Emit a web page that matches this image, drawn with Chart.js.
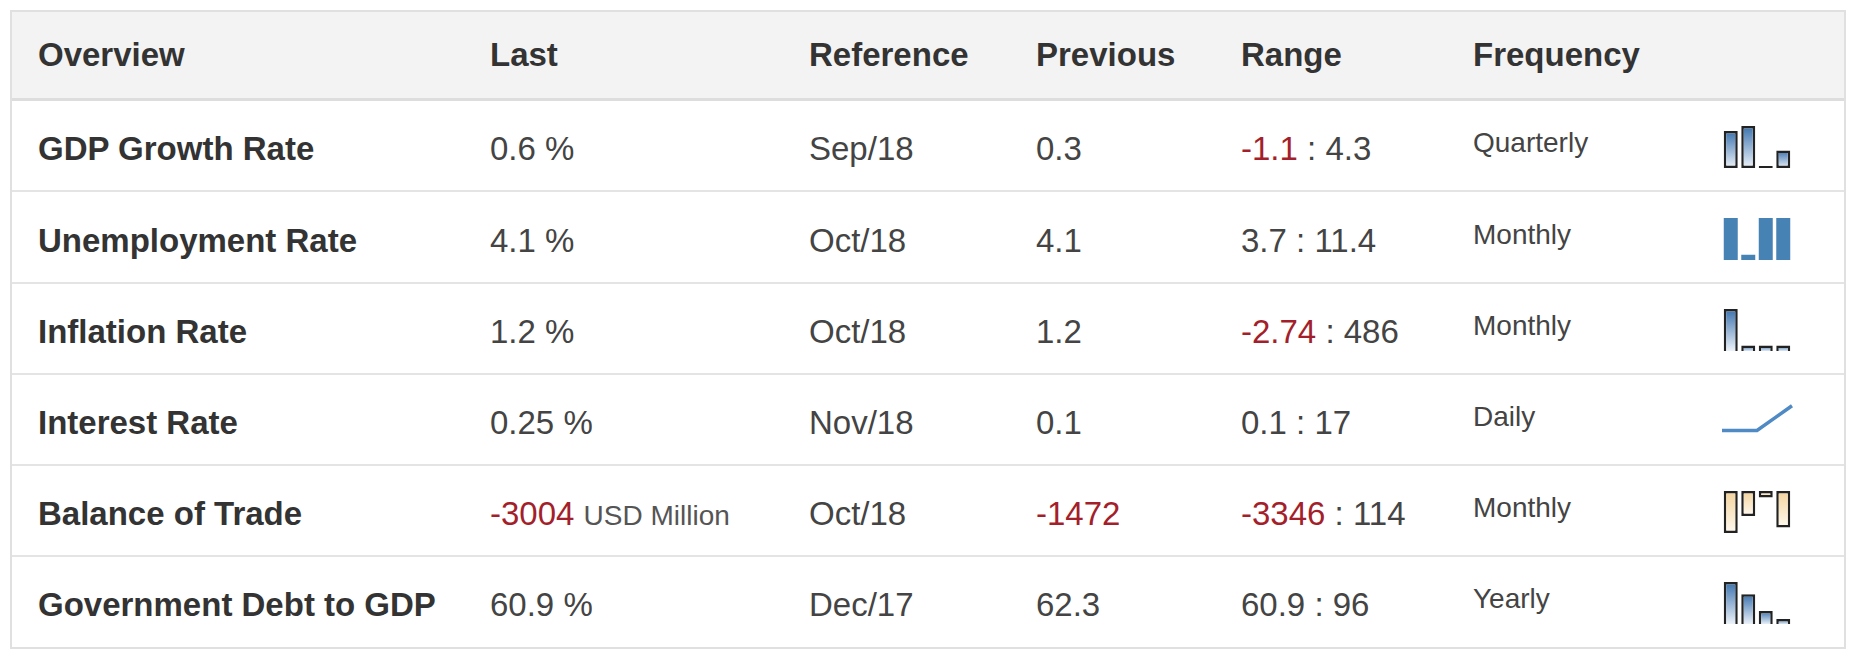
<!DOCTYPE html>
<html>
<head>
<meta charset="utf-8">
<script src="https://cdn.jsdelivr.net/npm/chart.js@4.4.0/dist/chart.umd.min.js"></script>
<style>
    body { margin: 0; background: #fff; font-family: "Liberation Sans", Arial, sans-serif; }
    #table { position: absolute; left: 10px; top: 10px; width: 1836px; height: 639px;
        border: 2px solid #e0e0e0; box-sizing: border-box; overflow: hidden; }
    .head { position: absolute; left: 0; right: 0; top: 0; height: 89px; background: #f3f3f3;
        border-bottom: 3px solid #dddddd; box-sizing: border-box; }
    .row { position: absolute; left: 0; right: 0; height: 91px; border-bottom: 2px solid #e4e4e4; box-sizing: border-box; }
    .row:last-child { border-bottom: none; }
    .cell { position: absolute; top: 0; white-space: nowrap; font-size: 33px; color: #444; }
    .bold { font-weight: bold; color: #333; font-size: 33px; }
    .neg { color: #a31f2b; }
    .unit { font-size: 28px; color: #555; }
    .freq { font-size: 28px; color: #444; }
    .spark { position: absolute; left: 1708px; width: 74px; height: 46px; }
</style>
</head>
<body>
<div id="table"></div>
<script>
    const headers = ['Overview', 'Last', 'Reference', 'Previous', 'Range', 'Frequency'];
    const indicators = ['GDP Growth Rate', 'Unemployment Rate', 'Inflation Rate', 'Interest Rate',
        'Balance of Trade', 'Government Debt to GDP'];
    const lastValues = ['0.6', '4.1', '1.2', '0.25', '-3004', '60.9'];
    const units = ['%', '%', '%', '%', 'USD Million', '%'];
    const references = ['Sep/18', 'Oct/18', 'Oct/18', 'Nov/18', 'Oct/18', 'Dec/17'];
    const previousValues = ['0.3', '4.1', '1.2', '0.1', '-1472', '62.3'];
    const rangeLow = ['-1.1', '3.7', '-2.74', '0.1', '-3346', '60.9'];
    const rangeHigh = ['4.3', '11.4', '486', '17', '114', '96'];
    const frequencies = ['Quarterly', 'Monthly', 'Monthly', 'Daily', 'Monthly', 'Yearly'];

    // sparkline values
    const gdpSpark = [0.53, 0.6, 0.03, 0.25];
    const unemploymentSpark = [4.1, 4.0, 4.1, 4.1];
    const inflationSpark = [2.7, 1.2, 1.2, 1.2];
    const interestSpark = [0.1, 0.1, 0.1, 0.175, 0.25];
    const tradeSpark = [-3000, -1780, -460, -2600];
    const debtSpark = [67.5, 65.3, 62.3, 60.9];

    const colX = [26, 478, 797, 1024, 1229, 1461];

    const val = v => v.startsWith('-') ? `<span class="neg">${v}</span>` : v;

    const table = document.getElementById('table');
    let html = '<div class="head">';
    headers.forEach((h, i) => {
        html += `<div class="cell bold" style="left:${colX[i]}px;line-height:86px">${h}</div>`;
    });
    html += '</div>';

    const rowTops = [89, 181, 272, 363, 454, 545];
    indicators.forEach((name, r) => {
        const unit = units[r].length > 1 ? `<span class="unit">${units[r]}</span>` : units[r];
        html += `<div class="row" style="top:${rowTops[r]}px">`;
        html += `<div class="cell bold" style="left:${colX[0]}px;line-height:96px">${name}</div>`;
        html += `<div class="cell" style="left:${colX[1]}px;line-height:96px">${val(lastValues[r])} ${unit}</div>`;
        html += `<div class="cell" style="left:${colX[2]}px;line-height:96px">${references[r]}</div>`;
        html += `<div class="cell" style="left:${colX[3]}px;line-height:96px">${val(previousValues[r])}</div>`;
        html += `<div class="cell" style="left:${colX[4]}px;line-height:96px">${val(rangeLow[r])} : ${rangeHigh[r]}</div>`;
        html += `<div class="cell freq" style="left:${colX[5]}px;line-height:84px">${frequencies[r]}</div>`;
        html += `<div class="spark" style="top:23px"><canvas id="spark_${r}"></canvas></div>`;
        html += '</div>';
    });
    table.innerHTML = html;

    let barFill = (top, bottom) => ctx => {
        const chart = ctx.chart;
        const y = chart.scales.y;
        if (ctx.type !== 'data' || !y || !chart.chartArea) return top;
        const p1 = y.getPixelForValue(ctx.parsed.y);
        const p0 = y.getBasePixel();
        const g = chart.ctx.createLinearGradient(0, Math.min(p0, p1), 0, Math.max(p0, p1) + 0.5);
        g.addColorStop(0, top);
        g.addColorStop(1, bottom);
        return g;
    };

    const blueFill = barFill('#3b72ae', '#eef4fa');
    const creamFill = barFill('#f3d39c', '#fffaf0');

    let sparks = [
        { type: 'bar', data: gdpSpark, min: 0, max: 0.6, fill: blueFill, border: 2.5 },
        { type: 'bar', data: unemploymentSpark, min: 3.986, max: 4.1, fill: '#4682b4', border: 0 },
        { type: 'bar', data: inflationSpark, min: 0.97, max: 2.7, fill: blueFill, border: 2.5 },
        { type: 'line', data: interestSpark, min: 0.03, max: 0.285 },
        { type: 'bar', data: tradeSpark, min: -3000, max: 0, fill: creamFill, border: 2.5 },
        { type: 'bar', data: debtSpark, min: 60, max: 67.5, fill: blueFill, border: 2.5 }
    ];

    sparks.forEach((s, r) => {
        let dataset = s.type === 'bar' ? {
            data: s.data,
            backgroundColor: s.fill,
            borderColor: '#222',
            borderWidth: s.border,
            borderSkipped: false,
            barPercentage: 0.8,
            categoryPercentage: 1
        } : {
            data: s.data,
            borderColor: '#4f8ac4',
            borderWidth: 3.5,
            pointRadius: 0,
            tension: 0,
            fill: false
        };

        new Chart(document.getElementById(`spark_${r}`).getContext('2d'), {
            type: s.type,
            data: { labels: s.data.map((v, i) => i), datasets: [dataset] },
            options: {
                animation: false,
                responsive: true,
                maintainAspectRatio: false,
                layout: { padding: { top: 2, bottom: 2, left: 2, right: 2 } },
                plugins: { legend: { display: false }, tooltip: { enabled: false } },
                scales: {
                    x: { display: false },
                    y: { display: false, min: s.min, max: s.max }
                }
            }
        });
    });
</script>
</body>
</html>
